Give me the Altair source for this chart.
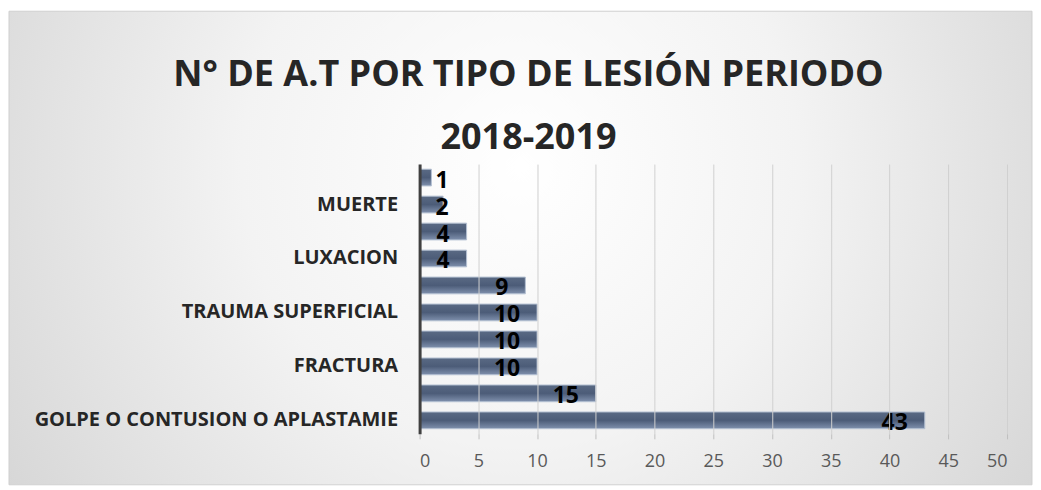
import altair as alt
import pandas as pd

# categories listed bottom -> top (labels hidden in the original are blank placeholders)
categorias = [
    "GOLPE O CONTUSION O APLASTAMIE", " ", "FRACTURA", "  ", "TRAUMA SUPERFICIAL",
    "   ", "LUXACION", "    ", "MUERTE", "     ",
]
valores = [43, 15, 10, 10, 10, 9, 4, 4, 2, 1]
ticks_x = [0, 5, 10, 15, 20, 25, 30, 35, 40, 45, 50]
titulo = ["N° DE A.T POR TIPO DE LESIÓN PERIODO", "2018-2019"]

df = pd.DataFrame({"cat": categorias, "valor": valores})
orden = list(reversed(categorias))  # top -> bottom

W, H = 588, 270
PL, PT, PR, PB = 412, 156, 26, 52
FONT = "Open Sans"

bg = alt.Chart(pd.DataFrame({"a": [0]})).mark_rect(
    color=alt.Gradient(
        gradient="radial",
        stops=[alt.GradientStop(color="#ffffff", offset=0),
               alt.GradientStop(color="#f3f3f3", offset=0.35),
               alt.GradientStop(color="#c6c6c6", offset=1)],
        x1=0.5, y1=0.42, r1=0, x2=0.5, y2=0.42, r2=0.78,
    ),
    stroke="#d0d0d0", strokeWidth=1,
).encode(
    x=alt.value(-PL + 1), x2=alt.value(W + PR - 1),
    y=alt.value(-PT + 3), y2=alt.value(H + PB - 1),
)

title1 = alt.Chart(pd.DataFrame({"t": [titulo[0]]})).mark_text(
    font=FONT, fontSize=36, fontWeight="bold", color="#262626",
    align="center", baseline="middle",
).encode(text="t:N", x=alt.value(109), y=alt.value(-89))
title2 = alt.Chart(pd.DataFrame({"t": [titulo[1]]})).mark_text(
    font=FONT, fontSize=36, fontWeight="bold", color="#262626",
    align="center", baseline="middle",
).encode(text="t:N", x=alt.value(109), y=alt.value(-26))

yenc = alt.Y("cat:N", sort=orden,
             scale=alt.Scale(paddingInner=0.38, paddingOuter=0.19),
             axis=alt.Axis(title=None, ticks=False, domainColor="#404040", domainWidth=3,
                           labelFont=FONT, labelFontWeight="bold", labelFontSize=20,
                           labelColor="#262626", labelPadding=22, labelLimit=420,
                           grid=False, zindex=2))
xenc = alt.X("valor:Q", scale=alt.Scale(domain=[0, 50], nice=False),
             axis=alt.Axis(title=None, values=ticks_x, grid=True, gridColor="#d0d0d0",
                           gridWidth=1, domain=False, tickColor="#bfbfbf", tickSize=5,
                           labelFont=FONT, labelFontSize=18, labelColor="#595959",
                           labelPadding=14, zindex=1))

bars = alt.Chart(df).mark_bar(
    color=alt.Gradient(
        gradient="linear",
        stops=[alt.GradientStop(color="#5a6a84", offset=0),
               alt.GradientStop(color="#4c5c78", offset=0.5),
               alt.GradientStop(color="#7f90ad", offset=1)],
        x1=0, y1=0, x2=0, y2=1,
    ),
    stroke="#b4c0d2", strokeWidth=1,
).encode(x=xenc, y=yenc)

labels = alt.Chart(df).transform_calculate(
    pos="max(datum.valor - 1.44, 2.47)"
).mark_text(
    align="right", baseline="middle", dy=3, font=FONT, fontWeight="bold",
    fontSize=23, color="#000000",
).encode(x="pos:Q", y=alt.Y("cat:N", sort=orden), text="valor:Q")

chart = alt.layer(bg, title1, title2, bars, labels).properties(
    width=W, height=H,
    autosize=alt.AutoSizeParams(type="none"),
    padding={"left": PL, "top": PT, "right": PR, "bottom": PB},
).configure_view(stroke=None).configure(background="#ffffff")

chart.save("out.html", embed_options={"renderer": "svg", "actions": False})
